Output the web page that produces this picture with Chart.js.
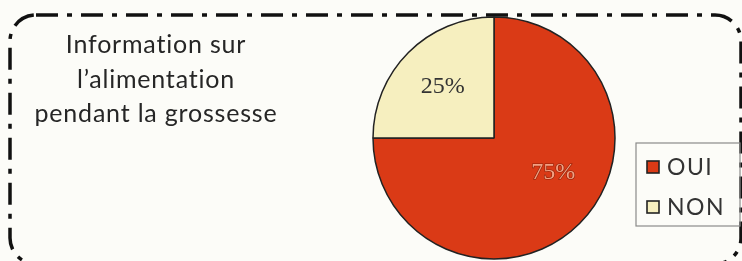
<!DOCTYPE html>
<html>
<head>
<meta charset="utf-8">
<script src="https://cdn.jsdelivr.net/npm/chart.js@4/dist/chart.umd.min.js"></script>
<style>
  html, body { margin: 0; padding: 0; background: #fcfcf8; }
  #wrap { position: relative; width: 742px; height: 261px; overflow: hidden; }
  canvas { position: absolute; left: 0; top: 0; }
  #title {
    position: absolute; left: 6px; top: 26px; width: 300px;
    text-align: center; font-family: Lato, sans-serif; font-size: 25px;
    line-height: 34.5px; color: #262626; letter-spacing: 0.8px;
  }
</style>
</head>
<body>
<div id="wrap">
  <canvas id="c" width="742" height="261"></canvas>
  <div id="title">Information sur<br>l’alimentation<br>pendant la grossesse</div>
</div>
<script>
const categories = ['OUI', 'NON'];
const values = [75, 25];
const valueLabels = ['75%', '25%'];
const sliceColors = ['#da3a16', '#f6efbf'];

const framePlugin = {
  id: 'frame',
  beforeDraw(chart) {
    const ctx = chart.ctx;
    ctx.save();
    ctx.fillStyle = '#fcfcf8';
    ctx.fillRect(0, 0, chart.width, chart.height);
    ctx.strokeStyle = '#111';
    ctx.lineWidth = 3.5;
    ctx.setLineDash([22, 9, 5, 9]);
    ctx.beginPath();
    ctx.roundRect(10, 15, 731, 249, 26);
    ctx.stroke();
    ctx.restore();
  }
};

const labelPlugin = {
  id: 'sliceLabels',
  afterDatasetsDraw(chart, args, opts) {
    const ctx = chart.ctx;
    const meta = chart.getDatasetMeta(0);
    ctx.save();
    ctx.font = '24px "Liberation Serif", serif';
    ctx.textAlign = 'center';
    ctx.textBaseline = 'middle';
    meta.data.forEach((arc, i) => {
      const p = arc.getProps(['x', 'y', 'startAngle', 'endAngle', 'outerRadius'], true);
      const a = (p.startAngle + p.endAngle) / 2 + opts.angleShift[i];
      const r = p.outerRadius * opts.radial[i];
      const x = p.x + Math.cos(a) * r;
      const y = p.y + Math.sin(a) * r;
      if (i === 0) {
        ctx.lineWidth = 1.2;
        ctx.strokeStyle = '#8a2008';
        ctx.strokeText(valueLabels[i], x, y);
        ctx.fillStyle = '#f2a183';
        ctx.fillText(valueLabels[i], x, y);
      } else {
        ctx.fillStyle = '#333';
        ctx.fillText(valueLabels[i], x, y);
      }
    });
    ctx.restore();
  }
};

const legendPlugin = {
  id: 'boxLegend',
  afterDraw(chart, args, opts) {
    const ctx = chart.ctx;
    const items = chart.options.plugins.legend.labels.generateLabels(chart);
    ctx.save();
    ctx.strokeStyle = '#8a8a8a';
    ctx.lineWidth = 1.2;
    ctx.strokeRect(opts.x, opts.y, opts.w, opts.h);
    ctx.font = '23px Lato, sans-serif';
    ctx.letterSpacing = '1.5px';
    ctx.textBaseline = 'middle';
    items.forEach((it, i) => {
      const cy = opts.y + opts.first + i * opts.step;
      ctx.fillStyle = it.fillStyle;
      ctx.fillRect(opts.x + 11, cy - 6, 12, 12);
      ctx.strokeStyle = '#222';
      ctx.lineWidth = 1.6;
      ctx.strokeRect(opts.x + 11, cy - 6, 12, 12);
      ctx.fillStyle = '#333';
      ctx.fillText(it.text, opts.x + 31, cy + 1);
    });
    ctx.restore();
  }
};

new Chart(document.getElementById('c'), {
  type: 'pie',
  data: {
    labels: categories,
    datasets: [{
      data: values,
      backgroundColor: sliceColors,
      borderColor: '#222',
      borderWidth: 1.5,
      radius: 121
    }]
  },
  options: {
    responsive: false,
    animation: false,
    events: [],
    layout: { padding: { left: 373, right: 127, top: 17, bottom: 2 } },
    plugins: {
      legend: { display: false },
      tooltip: { enabled: false },
      sliceLabels: { angleShift: [-0.25, 0], radial: [0.57, 0.60] },
      boxLegend: { x: 636, y: 143, w: 104, h: 83, first: 24, step: 40 }
    }
  },
  plugins: [framePlugin, labelPlugin, legendPlugin]
});
</script>
</body>
</html>
